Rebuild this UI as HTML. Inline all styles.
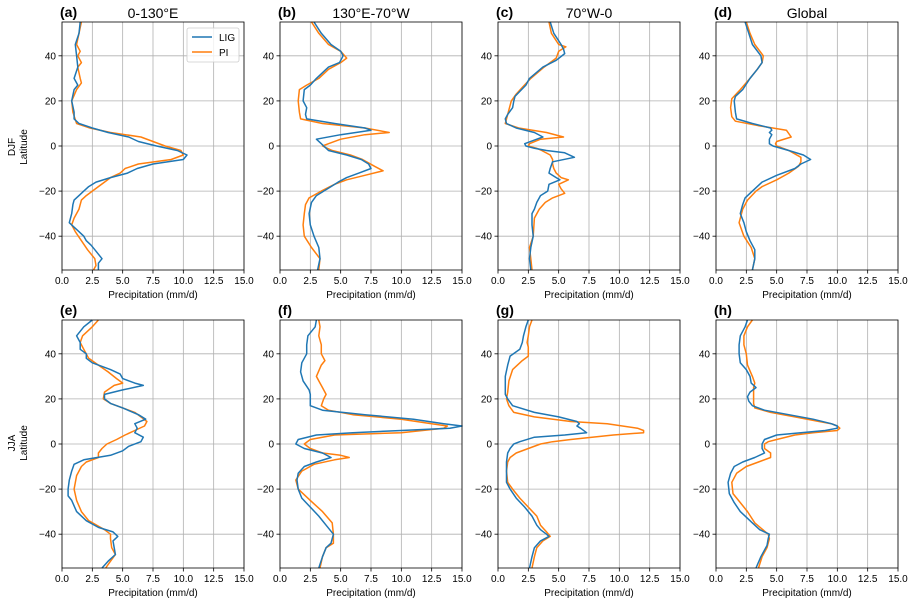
<!DOCTYPE html>
<html><head><meta charset="utf-8">
<style>
html,body{margin:0;padding:0;background:#fff;}
svg{display:block;font-family:"Liberation Sans","DejaVu Sans",sans-serif;}
</style></head>
<body>
<svg id="fig" width="917" height="604" viewBox="0 0 917 604" xmlns="http://www.w3.org/2000/svg"></svg>
<script>
// ---- data: latitude arrays and precipitation values (mm/d) ----
const latLIG_a=[55,50,45,40,35,30,27,25,20,15,12,10,8,6,4,2,0,-2,-4,-6,-8,-10,-12,-14,-16,-18,-20,-22,-24,-26,-30,-34,-36,-38,-40,-42,-44,-46,-48,-50,-52,-55];
const lig_a=[1.5,1.4,1.1,1.2,1.3,1.0,1.3,1.0,0.8,1.0,1.0,1.4,2.5,3.8,5.5,6.3,7.8,9.5,10.3,10.0,7.5,6.2,5.4,4.0,2.8,2.2,1.8,1.4,1.0,0.9,0.8,0.6,1.0,1.4,1.8,2.0,2.4,2.7,3.0,3.3,3.0,3.0];
const latPI_a=[55,50,45,42,40,37,35,30,28,25,20,15,10,8,6,4,2,0,-2,-4,-6,-8,-10,-12,-14,-16,-18,-20,-22,-24,-28,-32,-35,-38,-42,-46,-50,-53,-55];
const pi_a=[1.6,1.4,1.2,1.5,1.3,1.6,1.3,1.5,1.6,1.2,0.8,0.9,1.2,2.3,4.0,6.5,7.5,8.5,9.8,10.0,9.0,6.3,5.2,4.8,4.0,3.5,3.0,2.5,2.0,1.6,1.4,1.0,0.8,1.1,1.6,2.1,2.7,2.8,2.6];

const latLIG_b=[55,50,45,42,40,37,35,30,27,25,20,17,14,12,10,8,7,5,3,1,0,-2,-4,-6,-8,-10,-12,-14,-16,-18,-20,-22,-25,-30,-35,-40,-45,-50,-55];
const lig_b=[2.8,3.4,4.2,5.0,5.2,4.9,4.0,3.0,2.5,2.0,1.9,2.2,2.1,2.2,4.5,7.0,7.5,5.0,3.0,3.4,3.6,4.0,5.5,6.7,7.3,7.5,6.5,5.5,4.8,4.2,3.6,3.0,2.6,2.4,2.5,2.8,3.2,3.3,3.1];
const latPI_b=[55,50,45,42,39,37,34,30,27,25,20,15,12,10,8,6,5,3,1,0,-2,-4,-6,-9,-11,-13,-15,-17,-20,-23,-26,-30,-35,-40,-45,-50,-55];
const pi_b=[2.6,3.2,4.0,5.0,5.5,5.0,4.0,3.2,2.2,1.6,1.5,1.6,1.7,3.5,7.0,9.0,7.0,5.0,4.0,3.5,4.3,5.8,6.8,7.8,8.5,7.0,5.5,4.5,3.4,2.4,2.1,2.0,1.9,2.0,2.6,3.3,3.2];

const latLIG_c=[55,50,45,43,41,38,35,30,27,22,20,17,14,12,10,8,6,4,3,1,0,-1,-2,-3,-5,-7,-10,-12,-14,-15,-17,-20,-22,-25,-28,-30,-35,-40,-45,-50,-55];
const lig_c=[4.3,4.6,5.2,5.4,5.5,4.8,3.7,2.6,2.3,1.4,1.3,1.2,0.8,0.6,0.7,1.5,3.0,3.7,3.2,2.2,2.3,3.0,4.0,5.5,6.3,4.5,4.3,4.2,4.8,5.1,4.2,4.1,3.5,3.2,3.0,2.8,2.8,2.9,2.7,2.6,2.7];
const latPI_c=[55,50,45,44,42,39,35,30,26,23,20,16,12,10,8,6,4,3,1,0,-1,-2,-4,-6,-8,-10,-12,-14,-15,-17,-19,-21,-23,-25,-28,-32,-40,-45,-50,-55];
const pi_c=[4.2,4.4,5.0,5.6,5.0,4.8,3.8,2.7,2.0,1.5,1.1,0.9,0.7,0.6,1.7,4.0,5.4,3.5,2.6,2.5,3.2,3.6,4.3,4.5,4.5,4.6,4.8,5.2,5.8,5.0,5.2,5.5,4.5,3.9,3.4,3.0,2.9,2.6,2.7,2.8];

const latLIG_d=[55,50,45,40,37,34,30,25,22,20,15,12,10,8,7,6,5,3,1,0,-2,-4,-6,-8,-10,-13,-16,-20,-23,-26,-30,-34,-38,-42,-46,-50,-55];
const lig_d=[2.4,2.7,3.0,3.7,3.8,3.4,2.8,2.2,1.6,1.5,1.6,1.7,3.0,4.5,4.6,4.4,4.6,4.4,4.4,4.7,6.0,7.2,7.8,7.0,6.5,5.0,3.8,3.0,2.4,2.2,2.0,2.3,2.5,2.8,3.2,3.2,3.0];
const latPI_d=[55,50,45,40,37,34,30,25,21,17,13,11,9,7,4,2,1,0,-2,-5,-7,-9,-12,-15,-18,-20,-24,-28,-34,-40,-45,-50,-55];
const pi_d=[2.5,2.8,3.2,3.9,3.8,3.4,2.8,2.0,1.3,1.2,1.3,1.6,3.5,5.8,6.2,5.0,4.9,5.0,6.0,7.0,7.0,6.8,6.0,5.0,3.8,3.3,2.6,2.2,1.9,2.3,2.9,3.2,3.0];

const latLIG_e=[55,52,48,45,42,40,38,36,33,31,29,27,26,24,22,20,18,16,13,11,9,7,5,3,1,-1,-3,-5,-7,-9,-12,-16,-20,-23,-25,-30,-34,-37,-39,-41,-43,-46,-49,-52,-55];
const lig_e=[2.5,1.8,1.2,1.5,1.5,2.0,2.0,2.5,4.0,4.8,5.0,6.0,6.7,5.0,3.5,3.5,4.0,5.0,6.3,6.9,6.0,6.2,6.0,6.7,6.5,5.5,5.0,4.0,1.8,1.0,0.8,0.6,0.5,0.5,0.8,1.2,2.0,3.0,4.2,4.6,4.2,4.3,4.4,3.8,3.3];
const latPI_e=[55,52,48,45,42,38,35,32,29,27,26,23,20,18,16,14,12,10,8,6,4,2,0,-2,-4,-6,-8,-10,-14,-20,-25,-30,-34,-38,-40,-42,-46,-49,-52,-55];
const pi_e=[3.0,2.5,1.7,1.5,1.8,2.2,3.0,3.8,4.5,5.0,4.3,3.5,3.4,4.0,5.0,6.0,6.5,7.0,6.8,6.0,5.2,4.5,3.7,3.3,3.0,3.0,2.0,1.6,1.2,1.0,1.2,1.6,2.2,3.5,4.0,4.0,4.1,4.4,4.0,3.6];

const latLIG_f=[55,52,48,44,40,36,32,28,24,22,20,17,15,13,11,9,8,7,6,5,4,2,0,-2,-4,-6,-8,-10,-13,-16,-20,-24,-28,-32,-36,-40,-44,-46,-50,-55];
const lig_f=[3.0,2.9,2.3,2.2,2.2,1.8,1.7,1.9,2.4,2.5,2.5,2.5,3.5,7.0,11.0,13.5,15.0,14.0,10.0,6.0,3.0,1.5,1.3,2.0,3.5,4.2,3.0,2.0,1.5,1.4,1.5,1.8,2.5,3.2,3.8,4.4,4.2,3.8,3.5,3.2];
const latPI_f=[55,52,48,44,40,37,35,30,28,25,22,20,17,15,13,11,9,8,7,5,4,2,0,-2,-4,-5,-6,-7,-9,-12,-16,-20,-25,-30,-35,-40,-44,-46,-50,-55];
const pi_f=[3.2,3.3,3.2,3.4,3.4,3.7,3.4,3.0,3.2,3.5,3.8,3.6,3.4,4.0,6.0,10.0,12.5,13.8,13.5,10.0,4.5,2.5,2.0,2.5,3.5,5.0,5.7,4.5,2.8,1.8,1.3,1.5,2.5,3.5,4.3,4.4,4.4,3.8,3.5,3.3];

const latLIG_g=[55,52,48,45,42,39,35,30,25,22,20,17,14,12,10,9,8,7,5,4,3,1,0,-2,-4,-8,-12,-17,-20,-24,-28,-32,-36,-38,-40,-41,-43,-46,-50,-55];
const lig_g=[2.5,2.3,2.1,2.0,1.8,1.0,0.8,0.6,0.6,0.6,0.8,1.2,3.0,5.0,6.5,6.7,6.5,6.8,7.3,5.5,3.0,1.8,1.3,1.0,0.8,0.7,0.7,0.7,1.0,1.5,2.2,2.8,3.2,3.5,4.0,4.2,3.5,3.0,2.8,2.6];
const latPI_g=[55,52,48,45,43,39,37,33,28,23,20,17,14,12,10,9,7,6,5,4,2,1,0,-2,-4,-6,-8,-12,-17,-20,-24,-28,-32,-36,-39,-41,-43,-46,-50,-55];
const pi_g=[2.8,2.6,2.5,2.4,2.5,2.5,2.0,1.2,0.9,0.8,0.7,0.9,1.3,3.0,6.0,9.0,11.5,12.0,12.0,9.5,6.0,4.5,3.5,2.5,1.5,1.0,0.8,0.7,0.8,1.2,1.8,2.5,3.2,3.5,4.0,4.3,3.7,3.2,3.0,2.8];

const latLIG_h=[55,52,48,44,40,36,33,30,27,25,23,21,19,17,15,13,11,9,8,7,6,5,4,2,0,-2,-4,-6,-8,-10,-13,-17,-22,-26,-30,-35,-38,-40,-42,-45,-50,-55];
const lig_h=[2.6,2.4,2.0,1.9,1.9,2.0,2.5,2.8,2.9,3.3,2.8,2.6,2.7,3.0,4.0,6.0,8.0,9.5,10.0,10.0,9.0,7.0,5.0,4.0,3.8,3.8,4.0,3.2,2.2,1.5,1.2,1.0,1.1,1.5,2.0,3.0,3.6,4.4,4.3,4.2,3.7,3.3];
const latPI_h=[55,52,48,44,40,35,30,27,25,22,18,16,14,12,10,9,8,7,6,5,4,2,1,0,-2,-4,-6,-8,-10,-13,-17,-22,-26,-30,-35,-40,-42,-46,-50,-55];
const pi_h=[3.0,2.6,2.3,2.3,2.5,2.6,3.0,3.2,3.1,3.1,3.1,3.2,4.5,6.5,8.5,9.5,10.0,10.2,10.0,8.0,6.5,5.0,4.3,4.0,4.0,4.5,4.5,3.5,2.5,1.7,1.3,1.4,2.0,2.6,3.2,4.3,4.4,4.2,3.8,3.5];

const xTicks=[0,2.5,5,7.5,10,12.5,15];
const xTickLabels=["0.0","2.5","5.0","7.5","10.0","12.5","15.0"];
const yTicks=[-40,-20,0,20,40];
const panelLetters=["(a)","(b)","(c)","(d)","(e)","(f)","(g)","(h)"];
const colTitles=["0-130°E","130°E-70°W","70°W-0","Global"];

const panels=[
 [latLIG_a,lig_a,latPI_a,pi_a],[latLIG_b,lig_b,latPI_b,pi_b],[latLIG_c,lig_c,latPI_c,pi_c],[latLIG_d,lig_d,latPI_d,pi_d],
 [latLIG_e,lig_e,latPI_e,pi_e],[latLIG_f,lig_f,latPI_f,pi_f],[latLIG_g,lig_g,latPI_g,pi_g],[latLIG_h,lig_h,latPI_h,pi_h]
];

const NS="http://www.w3.org/2000/svg";
const svg=document.getElementById('fig');
function mk(tag,attrs,parent){const e=document.createElementNS(NS,tag);for(const k in attrs)e.setAttribute(k,attrs[k]);(parent||svg).appendChild(e);return e;}

const lefts=[62,280,498,716], tops=[22,320], W=182, H=248;
const XMIN=0,XMAX=15,YMIN=-55,YMAX=55;

panels.forEach((p,i)=>{
  const col=i%4,row=Math.floor(i/4);
  const L=lefts[col],T=tops[row];
  const xs=v=>L+(v-XMIN)/(XMAX-XMIN)*W;
  const ys=v=>T+(YMAX-v)/(YMAX-YMIN)*H;
  const g=mk('g',{});
  
  
  // grid
  xTicks.forEach(t=>{const l=mk('line',{x1:xs(t),x2:xs(t),y1:T,y2:T+H,stroke:'#b0b0b0','stroke-width':0.8},g);
    });
  yTicks.forEach(t=>{const l=mk('line',{x1:L,x2:L+W,y1:ys(t),y2:ys(t),stroke:'#b0b0b0','stroke-width':0.8},g);
    });
  // series
  const draw=(lats,vals,color,name)=>{
    const d=lats.map((la,k)=>(k?'L':'M')+xs(vals[k]).toFixed(1)+','+ys(la).toFixed(1)).join(' ');
    const path=mk('path',{d:d,fill:'none',stroke:color,'stroke-width':1.5,'stroke-linejoin':'round'},g);
    
  };
  draw(p[2],p[3],'#ff7f0e','pi-line');
  draw(p[0],p[1],'#1f77b4','lig-line');
  // frame
  const fr=mk('rect',{x:L,y:T,width:W,height:H,fill:'none',stroke:'#000','stroke-width':0.8},g);
  
  // x ticks
  xTicks.forEach((t,k)=>{
    mk('line',{x1:xs(t),x2:xs(t),y1:T+H,y2:T+H+3.5,stroke:'#000','stroke-width':0.8},g);
    const tx=mk('text',{x:xs(t),y:T+H+14,'font-size':10,'text-anchor':'middle'},g);
    tx.textContent=xTickLabels[k];
    
  });
  const xl=mk('text',{x:L+W/2,y:T+H+28,'font-size':10,'text-anchor':'middle'},g);
  xl.textContent='Precipitation (mm/d)';
  
  yTicks.forEach(t=>{
    mk('line',{x1:L-3.5,x2:L,y1:ys(t),y2:ys(t),stroke:'#000','stroke-width':0.8},g);
    const tx=mk('text',{x:L-6,y:ys(t)+3.5,'font-size':10,'text-anchor':'end'},g);
    tx.textContent=(t<0?'\u2212'+(-t):String(t));
    
  });
  const lt=mk('text',{x:L-2,y:T-5,'font-size':14,'font-weight':'bold'},g);
  lt.textContent=panelLetters[i];
  
  if(row===0){
    const ct=mk('text',{x:L+W/2,y:T-4,'font-size':14,'text-anchor':'middle'},g);
    ct.textContent=colTitles[col];
    
  }
});

// y-axis row titles
[['DJF',147],['JJA',443]].forEach(([s,cy])=>{
  const t=mk('text',{transform:`translate(0,${cy}) rotate(-90)`,'font-size':10,'text-anchor':'middle'});
  const a=mk('tspan',{x:0,y:15},t);a.textContent=s;
  const b=mk('tspan',{x:0,y:27},t);b.textContent='Latitude';
  
});

// legend
const lg=mk('g',{});


mk('rect',{x:187,y:28,width:52,height:34,rx:2,fill:'#fff','fill-opacity':0.8,stroke:'#ccc','stroke-width':0.8},lg);
mk('line',{x1:192,x2:212,y1:37,y2:37,stroke:'#1f77b4','stroke-width':1.5},lg);
mk('line',{x1:192,x2:212,y1:52,y2:52,stroke:'#ff7f0e','stroke-width':1.5},lg);
const t1=mk('text',{x:219,y:41,'font-size':10},lg);t1.textContent='LIG';

const t2=mk('text',{x:219,y:56,'font-size':10},lg);t2.textContent='PI';

</script>
</body></html>
